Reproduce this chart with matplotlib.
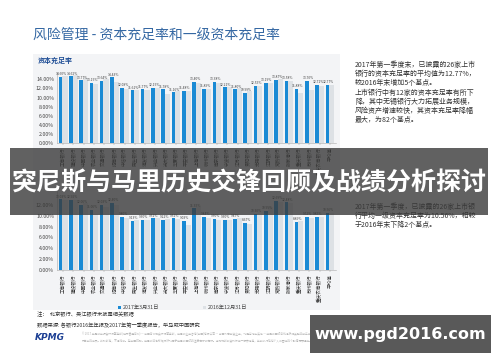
import matplotlib
matplotlib.use("Agg")
import matplotlib.pyplot as plt
import numpy as np
from matplotlib.patches import Rectangle

plt.rcParams['font.family'] = ['Noto Sans CJK SC', 'DejaVu Sans']

# --- data ---
banks = ['工商银行', '建设银行', '中国银行', '农业银行', '交通银行', '招商银行',
         '中信银行', '民生银行', '浦发银行', '兴业银行', '光大银行', '华夏银行',
         '平安银行', '上海银行', '杭州银行', '南京银行', '宁波银行', '江苏银行',
         '贵阳银行', '无锡银行', '江阴银行', '常熟银行', '张家港行', '重庆银行',
         '苏州银行', '重庆农商银行', '平均值']

car_2017q1 = [14.60, 14.62, 13.77, 13.15, 13.64, 14.43, 12.08, 11.61, 11.77,
              12.15, 11.78, 11.16, 11.48, 13.40, 11.89, 13.38, 12.21, 11.80,
              10.99, 12.55, 13.19, 13.87, 13.58, 11.88, 13.70, 12.71, 12.77]
car_2016 = [14.61, 14.94, 14.28, 13.04, 14.02, 13.33, 11.98, 11.73, 11.65,
            12.02, 10.80, 11.36, 11.53, 13.17, 11.87, 13.10, 12.23, 12.19,
            11.40, 12.55, 13.16, 14.10, 13.61, 11.10, 11.74, 12.60, 12.72]

t1_2017q1 = [13.03, 12.92, 12.06, 11.06, 12.03, 12.40, 9.80, 9.13, 9.30,
             9.51, 9.22, 9.51, 9.03, 11.35, 9.84, 9.50, 9.30, 9.47,
             8.67, 10.30, 10.95, 12.69, 12.48, 8.89, 9.72, 9.85, 10.56]
t1_2016 = [12.87, 12.98, 12.28, 10.38, 11.54, 12.05, 9.65, 9.22, 9.15,
           9.65, 9.34, 9.37, 8.36, 11.53, 9.66, 9.21, 9.29, 9.51,
           8.54, 10.19, 11.58, 12.57, 12.40, 9.11, 9.67, 9.81, 10.58]

legend_labels = ['2017年3月31日', '2016年12月31日']

BLUE = '#1a8ad4'
GREY = '#dde1e5'
W, H = 500, 362


def fx(x):
    return x / W


def fy(y):
    return 1 - y / H


def bar_panel(fig, left, right, y0, ytop, ymax, ticktop, v_new, v_old):
    ax = fig.add_axes([fx(left), fy(y0), (right - left) / W, (y0 - ytop) / H])
    x = np.arange(len(banks))
    ax.bar(x - 0.245, v_new, width=0.35, color=BLUE, zorder=3)
    ax.bar(x + 0.18, v_old, width=0.5, color=GREY, zorder=2)
    for xi, v in zip(x, v_new):
        ax.text(xi - 0.15, v + 0.15, f'{v:.2f}%', ha='center', va='bottom',
                fontsize=2.4, color='#444444')
    ax.set_xlim(-0.6, len(banks) - 0.4)
    ax.set_ylim(0, ymax)
    ticks = np.arange(0, ticktop + 1, 2)
    ax.set_yticks(ticks)
    ax.set_yticklabels([f'{t:.2f}%' for t in ticks])
    ax.set_xticks(x)
    ax.set_xticklabels(banks, rotation=90, fontsize=3.3, color='#333333')
    ax.tick_params(axis='y', labelsize=3.8, length=0, pad=2, colors='#444444')
    ax.tick_params(axis='x', length=1.5, width=0.3, pad=1.5, color='#999999')
    ax.set_facecolor('none')
    for s in ['top', 'right']:
        ax.spines[s].set_visible(False)
    for s in ['left', 'bottom']:
        ax.spines[s].set_color('#aaaaaa')
        ax.spines[s].set_linewidth(0.4)
    return ax


fig = plt.figure(figsize=(5, 3.62), dpi=100)
fig.patch.set_facecolor('white')

# light panel behind both charts
fig.add_artist(Rectangle((fx(33), fy(310)), (340 - 33) / W, (310 - 54) / H,
                         transform=fig.transFigure, facecolor='#f3f4f6',
                         edgecolor='none', zorder=-5))

fig.text(fx(33), fy(35), '风险管理 - 资本充足率和一级资本充足率', fontsize=10,
         color='#3568a3', va='center', ha='left')
fig.text(fx(38), fy(60), '资本充足率', fontsize=5, fontweight='bold',
         color='#1f4e96', va='center', ha='left')

bar_panel(fig, 57, 336, 143.3, 72.4, 15.5, 14, car_2017q1, car_2016)
bar_panel(fig, 57, 336, 270, 191.4, 14.5, 12, t1_2017q1, t1_2016)

# legend row
fig.add_artist(Rectangle((fx(118), fy(309)), 3 / W, 3 / H, transform=fig.transFigure,
                         facecolor=BLUE, edgecolor='none'))
fig.text(fx(123), fy(307.5), legend_labels[0], fontsize=3.8, color='#444444', va='center')
fig.add_artist(Rectangle((fx(203), fy(309)), 3 / W, 3 / H, transform=fig.transFigure,
                         facecolor=GREY, edgecolor='none'))
fig.text(fx(208), fy(307.5), legend_labels[1], fontsize=3.8, color='#444444', va='center')

# notes
fig.text(fx(37), fy(314), '注：  北京银行、吴江银行未披露相关数据', fontsize=3.8,
         color='#333333', va='center')
fig.text(fx(37), fy(325), '数据来源: 各银行2016年年报及2017年第一季度报告，毕马威中国研究',
         fontsize=3.8, color='#333333', va='center')
fig.text(fx(35), fy(338), 'KPMG', fontsize=6.5, fontweight='bold', style='italic',
         color='#1c3f94', va='center', family='DejaVu Sans')
fig.text(fx(82), fy(334), '© 2017 毕马威华振会计师事务所(特殊普通合伙) — 中国合伙制会计师事务所，'
         '毕马威企业咨询(中国)有限公司 — 中国外商独资企业，均是与瑞士实体 — 毕马威国际合作组织相关联的独立成员所',
         fontsize=2.0, color='#b5b5b5', va='center')
fig.text(fx(82), fy(340), '网络中的成员。版权所有，不得转载。在中国印刷。毕马威的名称和标识均属于毕马威国际的注册商标或商标。'
         '本刊物所载资料仅供一般参考用，并非针对任何个人或团体的个别情况而提供。',
         fontsize=2.0, color='#b5b5b5', va='center')

# commentary on the right, one line at a time
right_blocks = [
    (65, ['2017年第一季度末，已披露的26家上市',
          '银行的资本充足率的平均值为12.77%，',
          '较2016年末增加5个基点。']),
    (93, ['上市银行中有12家的资本充足率有所下',
          '降，其中无锡银行大力拓展业务规模，',
          '风险资产增速较快，其资本充足率降幅',
          '最大，为82个基点。']),
    (207, ['2017年第一季度，已披露的26家上市银',
           '行平均一级资本充足率为10.56%，相较',
           '于2016年末下降2个基点。']),
]
for y0, lines in right_blocks:
    for i, line in enumerate(lines):
        fig.text(fx(355), fy(y0 + i * 9), line, fontsize=5.0, color='#333333',
                 va='center', ha='left')

# overlay banner across the slide
fig.add_artist(Rectangle((fx(10), fy(215)), (488 - 10) / W, (215 - 148) / H,
                         transform=fig.transFigure, facecolor='#3a3a3a',
                         edgecolor='none', alpha=0.8, zorder=10))
fig.text(fx(249), fy(183), '突尼斯与马里历史交锋回顾及战绩分析探讨', fontsize=18,
         fontweight='bold', color='white', ha='center', va='center', zorder=11)

# site box bottom right
fig.add_artist(Rectangle((fx(310), fy(353)), (491 - 310) / W, (353 - 315) / H,
                         transform=fig.transFigure, facecolor='#595959',
                         edgecolor='none', zorder=10))
fig.text(fx(400), fy(334), 'www.pgd2016.com', fontsize=11.5, fontweight='bold',
         color='white', ha='center', va='center', zorder=11, family='DejaVu Sans')

fig.savefig('out.png', dpi=100)
